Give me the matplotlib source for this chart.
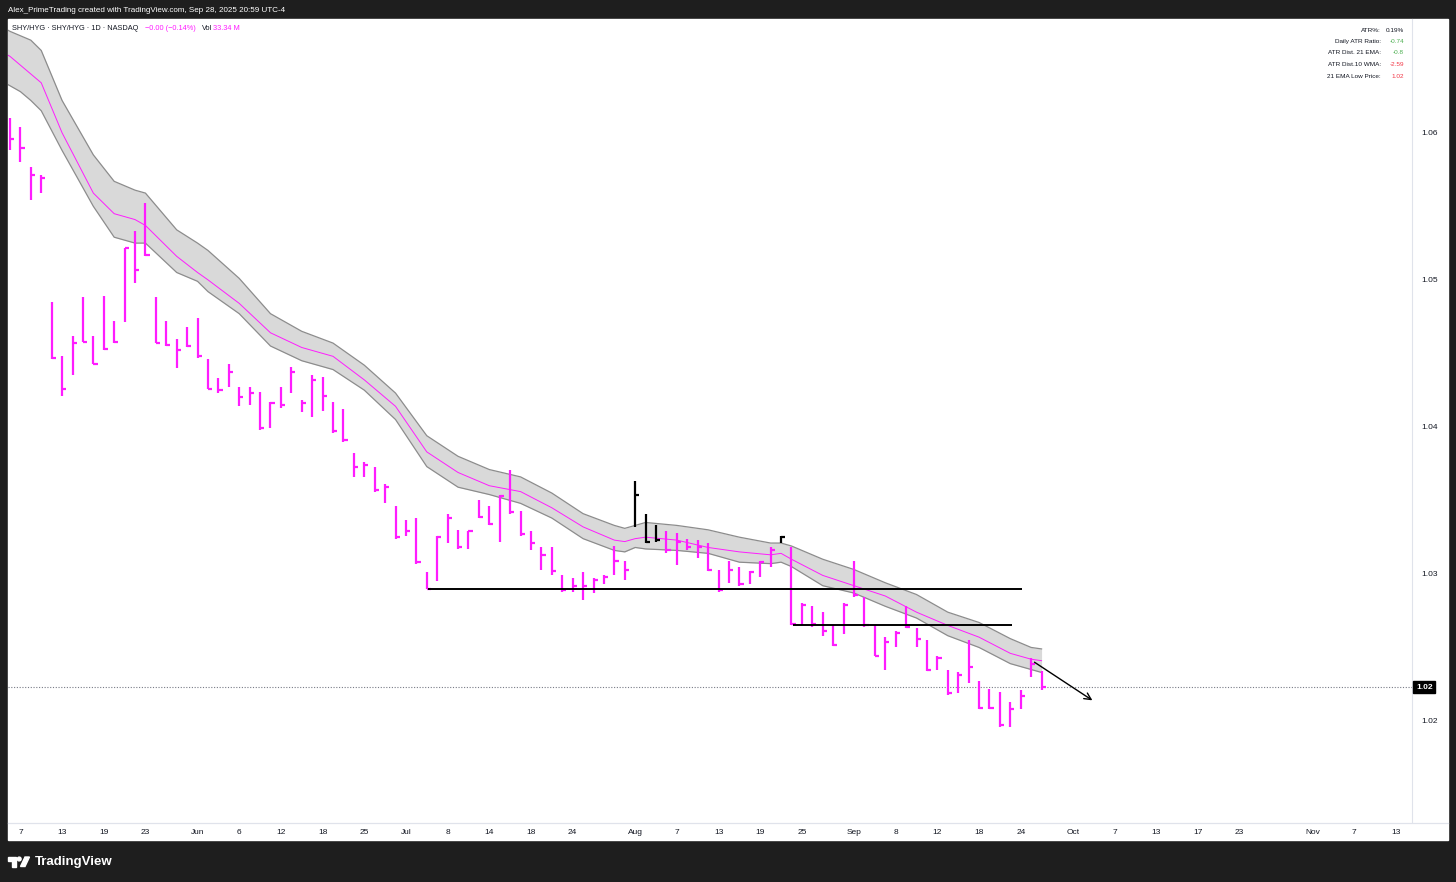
import matplotlib
matplotlib.use('Agg')
import matplotlib.pyplot as plt
import matplotlib.transforms as mtransforms
from matplotlib.patches import Rectangle, Polygon, Circle
import pandas as pd

plt.rcParams['font.family'] = ['Liberation Sans', 'DejaVu Sans']

# ---- daily bars SHY/HYG, May 6 -> Sep 26 2025 ----
high = [1.0610, 1.0604, 1.0577, 1.0571, 1.0485, 1.0448, 1.0462, 1.0488, 1.0462, 1.0489,
        1.0472, 1.0522, 1.0533, 1.0552, 1.0488, 1.0472, 1.0460, 1.0468, 1.0474, 1.0446,
        1.0433, 1.0443, 1.0427, 1.0427, 1.0424, 1.0417, 1.0427, 1.0441, 1.0418, 1.0435,
        1.0434, 1.0417, 1.0412, 1.0382, 1.0376, 1.0373, 1.0361, 1.0346, 1.0337, 1.0338,
        1.0301, 1.0326, 1.0341, 1.0330, 1.0329, 1.0350, 1.0346, 1.0354, 1.0371, 1.0343,
        1.0329, 1.0318, 1.0318, 1.0299, 1.0297, 1.0301, 1.0297, 1.0299, 1.0319, 1.0309,
        1.0363, 1.0341, 1.0333, 1.0329, 1.0328, 1.0324, 1.0323, 1.0321, 1.0303, 1.0309,
        1.0305, 1.0302, 1.0309, 1.0318, 1.0326, 1.0318, 1.0280, 1.0278, 1.0274, 1.0265,
        1.0280, 1.0309, 1.0284, 1.0265, 1.0257, 1.0261, 1.0278, 1.0263, 1.0255, 1.0244,
        1.0235, 1.0233, 1.0255, 1.0227, 1.0222, 1.0220, 1.0213, 1.0221, 1.0243, 1.0234]
low = [1.0588, 1.0580, 1.0554, 1.0559, 1.0446, 1.0421, 1.0435, 1.0458, 1.0443, 1.0452,
       1.0457, 1.0471, 1.0498, 1.0516, 1.0457, 1.0455, 1.0440, 1.0454, 1.0447, 1.0426,
       1.0423, 1.0427, 1.0414, 1.0415, 1.0398, 1.0399, 1.0413, 1.0423, 1.0410, 1.0407,
       1.0411, 1.0396, 1.0390, 1.0366, 1.0366, 1.0356, 1.0348, 1.0324, 1.0326, 1.0307,
       1.0290, 1.0295, 1.0321, 1.0317, 1.0317, 1.0338, 1.0333, 1.0322, 1.0341, 1.0326,
       1.0316, 1.0303, 1.0299, 1.0288, 1.0288, 1.0282, 1.0287, 1.0293, 1.0299, 1.0296,
       1.0332, 1.0321, 1.0322, 1.0314, 1.0306, 1.0316, 1.0311, 1.0302, 1.0288, 1.0294,
       1.0292, 1.0293, 1.0298, 1.0305, 1.0321, 1.0265, 1.0265, 1.0264, 1.0258, 1.0251,
       1.0259, 1.0284, 1.0264, 1.0244, 1.0235, 1.0250, 1.0263, 1.0250, 1.0234, 1.0235,
       1.0218, 1.0219, 1.0226, 1.0208, 1.0208, 1.0196, 1.0196, 1.0208, 1.0230, 1.0221]
close = [1.0596, 1.0590, 1.0571, 1.0569, 1.0447, 1.0426, 1.0457, 1.0458, 1.0443, 1.0453,
         1.0458, 1.0522, 1.0507, 1.0517, 1.0457, 1.0456, 1.0452, 1.0455, 1.0448, 1.0426,
         1.0425, 1.0437, 1.0420, 1.0423, 1.0399, 1.0416, 1.0415, 1.0437, 1.0416, 1.0432,
         1.0421, 1.0397, 1.0391, 1.0373, 1.0374, 1.0357, 1.0359, 1.0325, 1.0329, 1.0308,
         1.0290, 1.0325, 1.0338, 1.0318, 1.0329, 1.0339, 1.0334, 1.0353, 1.0342, 1.0327,
         1.0321, 1.0313, 1.0302, 1.0289, 1.0292, 1.0292, 1.0296, 1.0298, 1.0309, 1.0303,
         1.0354, 1.0322, 1.0323, 1.0316, 1.0322, 1.0318, 1.0318, 1.0303, 1.0289, 1.0303,
         1.0293, 1.0301, 1.0308, 1.0316, 1.0325, 1.0266, 1.0279, 1.0266, 1.0261, 1.0252,
         1.0279, 1.0286, 1.0265, 1.0244, 1.0254, 1.0260, 1.0264, 1.0256, 1.0235, 1.0243,
         1.0219, 1.0231, 1.0237, 1.0209, 1.0209, 1.0197, 1.0208, 1.0217, 1.0239, 1.0223]
black_bars = [60, 61, 62, 74]

# ---- EMA band (EMA of highs / closes / lows) ----
band_x = [-1, 0, 1, 2, 3, 5, 8, 10, 12, 13, 16, 18, 19, 22, 25, 28, 31, 34, 37, 40, 43, 46,
          49, 52, 55, 58, 59, 60, 61, 64, 67, 70, 73, 74, 75, 78, 81, 84, 87, 90, 93, 96, 98, 99]
band_upper = [1.0673, 1.0669, 1.0666, 1.0663, 1.0656, 1.0622, 1.0585, 1.0567, 1.0561, 1.0559,
              1.0534, 1.0525, 1.0520, 1.0501, 1.0477, 1.0465, 1.0457, 1.0442, 1.0423, 1.0394,
              1.0380, 1.0371, 1.0366, 1.0355, 1.0341, 1.0333, 1.0331, 1.0333, 1.0335, 1.0333,
              1.0330, 1.0325, 1.0321, 1.0321, 1.0319, 1.0310, 1.0303, 1.0294, 1.0286, 1.0274,
              1.0267, 1.0256, 1.0250, 1.0249]
band_mid = [1.0656, 1.0652, 1.0646, 1.0640, 1.0634, 1.0600, 1.0559, 1.0545, 1.0541, 1.0537,
            1.0516, 1.0505, 1.0500, 1.0484, 1.0464, 1.0454, 1.0448, 1.0432, 1.0414, 1.0383,
            1.0369, 1.0360, 1.0356, 1.0345, 1.0332, 1.0323, 1.0322, 1.0324, 1.0325, 1.0323,
            1.0318, 1.0315, 1.0313, 1.0314, 1.0310, 1.0299, 1.0292, 1.0285, 1.0274, 1.0265,
            1.0257, 1.0246, 1.0242, 1.0241]
band_lower = [1.0636, 1.0632, 1.0628, 1.0622, 1.0615, 1.0588, 1.0550, 1.0529, 1.0525, 1.0525,
              1.0505, 1.0499, 1.0492, 1.0477, 1.0455, 1.0445, 1.0439, 1.0425, 1.0405, 1.0373,
              1.0359, 1.0354, 1.0348, 1.0338, 1.0324, 1.0316, 1.0315, 1.0318, 1.0317, 1.0316,
              1.0314, 1.0308, 1.0307, 1.0308, 1.0305, 1.0292, 1.0287, 1.0278, 1.0270, 1.0258,
              1.0250, 1.0239, 1.0235, 1.0233]

support_1 = 1.0290
support_2 = 1.0265
last_price = 1.0223
price_ticks = [1.02, 1.03, 1.04, 1.05, 1.06]

tick_dates = ['2025-05-07', '2025-05-13', '2025-05-19', '2025-05-23', '2025-06-02', '2025-06-06',
              '2025-06-12', '2025-06-18', '2025-06-25', '2025-07-01', '2025-07-08', '2025-07-14',
              '2025-07-18', '2025-07-24', '2025-08-01', '2025-08-07', '2025-08-13', '2025-08-19',
              '2025-08-25', '2025-09-02', '2025-09-08', '2025-09-12', '2025-09-18', '2025-09-24',
              '2025-10-01', '2025-10-07', '2025-10-13', '2025-10-17', '2025-10-23', '2025-11-03',
              '2025-11-07', '2025-11-13']
tick_labels = ['7', '13', '19', '23', 'Jun', '6', '12', '18', '25', 'Jul', '8', '14', '18', '24',
               'Aug', '7', '13', '19', '25', 'Sep', '8', '12', '18', '24', 'Oct', '7', '13', '17',
               '23', 'Nov', '7', '13']

table_labels = ['ATR%:', 'Daily ATR Ratio:', 'ATR Dist. 21 EMA:', 'ATR Dist.10 WMA:', '21 EMA Low Price:']
table_values = ['0.19%', '-0.74', '-0.8', '-2.59', '1.02']
table_colors = ['#131722', '#4caf50', '#4caf50', '#f23645', '#f23645']

# trading-day index (weekends and US market holidays skipped)
days = pd.bdate_range('2025-05-06', '2025-11-14')
days = days[~days.isin(pd.to_datetime(['2025-05-26', '2025-06-19', '2025-07-04', '2025-09-01']))]
tick_pos = days.get_indexer(pd.to_datetime(tick_dates))

MAG = '#ff1cff'
W, H = 1456, 882
fig = plt.figure(figsize=(W / 100, H / 100), dpi=100, facecolor='#1e1e1e')

bg = fig.add_axes([0, 0, 1, 1])
bg.set_xlim(0, W)
bg.set_ylim(H, 0)
bg.axis('off')
bg.add_patch(Rectangle((8, 19), 1440, 821, color='white'))
bg.plot([8, 1448], [822.5, 822.5], color='#e0e3eb', lw=0.9)

ax = fig.add_axes([8 / W, 60 / H, 1404 / W, 803 / H])
ax.set_facecolor('none')

# band
ax.fill_between(band_x, band_lower, band_upper, color='#d9d9d9', lw=0, zorder=1)
ax.plot(band_x, band_upper, color='#8c8c8c', lw=0.9, zorder=2)
ax.plot(band_x, band_lower, color='#8c8c8c', lw=0.9, zorder=2)
ax.plot(band_x, band_mid, color=MAG, lw=0.7, zorder=3)

# bars
idx = list(range(len(close)))
colors = ['black' if i in black_bars else MAG for i in idx]
ax.vlines(idx, low, high, colors=colors, lw=1.6, zorder=4)
ax.hlines(close, idx, [i + 0.4 for i in idx], colors=colors, lw=1.6, zorder=4)

# drawings
ax.hlines(support_1, 40.1, 97.1, color='black', lw=1.4, zorder=5)
ax.hlines(support_2, 75.1, 96.2, color='black', lw=1.4, zorder=5)
ax.axhline(last_price, color='#787b86', ls=(0, (1, 1.5)), lw=0.8, zorder=0)
ax.annotate('', xy=(104.1, 1.0213), xytext=(98.1, 1.0241),
            arrowprops=dict(arrowstyle='->', color='black', lw=1.0, mutation_scale=12), zorder=6)

ax.set_xlim(-0.19, 134.55)
ax.set_ylim(1.01313, 1.06774)

ax.set_xticks(tick_pos)
ax.set_xticklabels(tick_labels)
ax.tick_params(axis='x', length=0, pad=5, labelsize=6, labelcolor='#131722')
ax.yaxis.tick_right()
ax.set_yticks(price_ticks)
ax.set_yticklabels(['%.2f' % p for p in price_ticks])
ax.tick_params(axis='y', length=0, pad=7, labelsize=6, labelcolor='#131722')
for s in ['top', 'left', 'bottom']:
    ax.spines[s].set_visible(False)
ax.spines['right'].set_color('#e0e3eb')

trans = mtransforms.blended_transform_factory(ax.transAxes, ax.transData)
ax.text(1.0028, last_price, '1.02', transform=trans, ha='left', va='center', color='white',
        fontsize=6, fontweight='bold', clip_on=False,
        bbox=dict(boxstyle='square,pad=0.3', fc='black', ec='black'))

# texts on top
top = fig.add_axes([0, 0, 1, 1])
top.set_xlim(0, W)
top.set_ylim(H, 0)
top.axis('off')
top.text(8, 10, 'Alex_PrimeTrading created with TradingView.com, Sep 28, 2025 20:59 UTC-4',
         color='white', fontsize=5.8, va='center')
top.text(12, 28, 'SHY/HYG · SHY/HYG · 1D · NASDAQ', color='#131722', fontsize=5.3, va='center')
top.text(145, 28, '\u22120.00 (\u22120.14%)', color=MAG, fontsize=5.3, va='center')
top.text(202, 28, 'Vol', color='#131722', fontsize=5.3, va='center')
top.text(213, 28, '33.34 M', color=MAG, fontsize=5.3, va='center')
for k in range(len(table_labels)):
    y = 30 + 11.5 * k
    top.text(1381, y, table_labels[k], ha='right', va='center', color='#131722', fontsize=4.6)
    top.text(1404, y, table_values[k], ha='right', va='center', color=table_colors[k], fontsize=4.6)

# TradingView logo
top.add_patch(Polygon([(8, 857), (16, 857), (16, 866.5), (12, 866.5), (12, 860.5), (8, 860.5)],
                      closed=True, color='white'))
top.add_patch(Circle((19.2, 859), 1.9, color='white'))
top.add_patch(Polygon([(20.5, 866.5), (25, 857), (29.5, 857), (25, 866.5)], closed=True, color='white'))
top.text(35, 861.5, 'TradingView', color='white', fontsize=9.5, fontweight='bold', va='center')

fig.savefig('out.png', dpi=100, facecolor=fig.get_facecolor())
